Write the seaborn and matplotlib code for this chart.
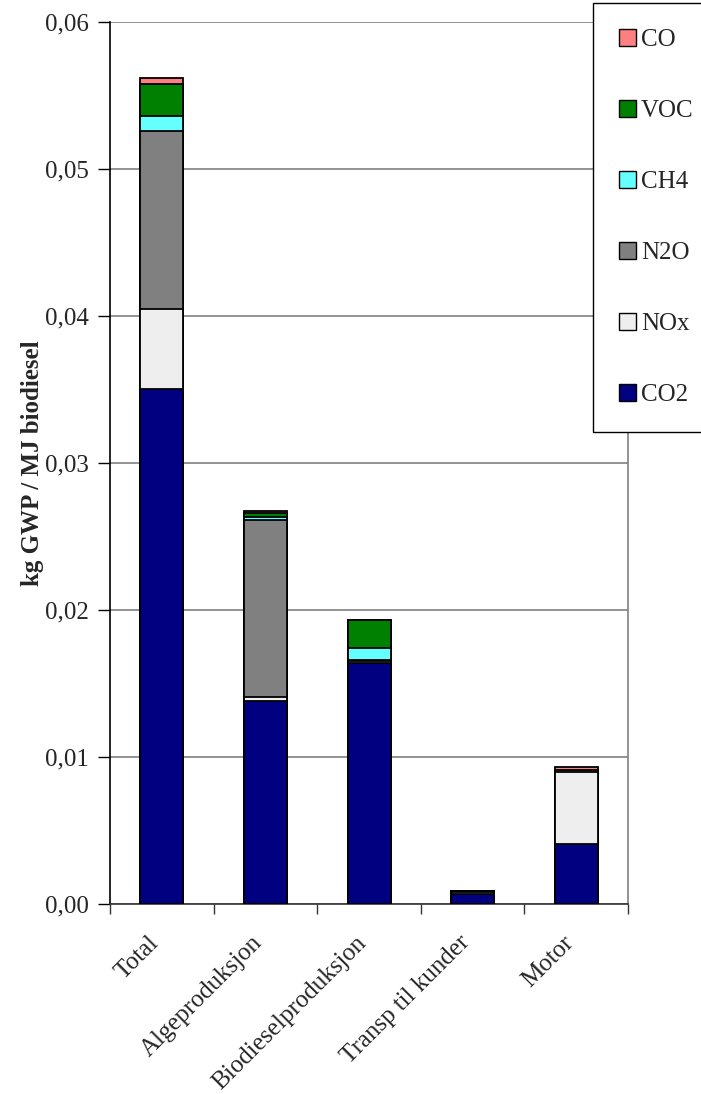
import numpy as np
import pandas as pd
import matplotlib
matplotlib.use("Agg")
import matplotlib.pyplot as plt
import matplotlib.transforms as mtransforms
from matplotlib.patches import Patch
import seaborn as sns

# Categories and emission contributions (kg GWP / MJ biodiesel)
categories = ['Total', 'Algeproduksjon', 'Biodieselproduksjon', 'Transp til kunder', 'Motor']
co2 = [0.0350, 0.0138, 0.0164, 0.0007, 0.0041]
nox = [0.0055, 0.0003, 0.0001, 0.0001, 0.0049]
n2o = [0.0121, 0.0120, 0.0001, 0.0001, 0.0001]
ch4 = [0.0010, 0.0002, 0.0008, 0.0000, 0.0000]
voc = [0.0022, 0.0003, 0.0019, 0.0000, 0.0000]
co = [0.0004, 0.0001, 0.0000, 0.0000, 0.0002]

series = ['CO2', 'NOx', 'N2O', 'CH4', 'VOC', 'CO']
values = [co2, nox, n2o, ch4, voc, co]
colors = {'CO2': '#000080', 'NOx': '#EEEEEE', 'N2O': '#808080',
          'CH4': '#66FFFF', 'VOC': '#008000', 'CO': '#FF8080'}

df = pd.DataFrame(dict(zip(series, values)), index=categories)
cum = df.cumsum(axis=1)

sns.set_style("white")
plt.rcParams['font.family'] = ['Liberation Serif', 'DejaVu Serif']
fs = 18

fig = plt.figure(figsize=(7.01, 10.94), dpi=100)
ax = fig.add_axes([0.1569, 0.1737, 0.739, 0.8062])

# draw cumulative totals from top series down so lower layers overlay
for s in reversed(series):
    sns.barplot(x=categories, y=cum[s].values, color=colors[s], ax=ax,
                width=0.415, edgecolor='black', linewidth=1.3, saturation=1, zorder=3)

ax.set_ylim(0, 0.06)
ax.set_xlim(-0.5, 4.5)
yt = np.arange(0, 0.061, 0.01)
ax.set_yticks(yt)
ax.set_yticklabels([f"{v:.2f}".replace('.', ',') for v in yt], fontsize=fs)
ax.yaxis.grid(True, color='#808080', linewidth=1.2, zorder=0)
ax.set_axisbelow(True)
ax.tick_params(axis='y', direction='out', length=9, width=1, color='black', left=True, pad=6)

ax.set_xticks(range(len(categories)))
ax.set_xticklabels(categories, rotation=45, ha='right', rotation_mode='anchor', fontsize=fs)
ax.tick_params(axis='x', which='major', length=0, pad=20)
shift = mtransforms.ScaledTranslation(-14 / 100, 0, fig.dpi_scale_trans)
for lbl in ax.get_xticklabels():
    lbl.set_transform(lbl.get_transform() + shift)
ax.set_xticks(np.arange(-0.5, 4.6, 1), minor=True)
ax.tick_params(axis='x', which='minor', direction='out', length=7, width=1, color='#333333', bottom=True)

ax.set_ylabel('kg GWP / MJ biodiesel', fontsize=fs, fontweight='bold', labelpad=1)
ax.set_xlabel('')

ax.spines['left'].set_color('black')
ax.spines['bottom'].set_color('#333333')
ax.spines['right'].set_color('#808080')
for side in ['left', 'bottom', 'right']:
    ax.spines[side].set_linewidth(1.2)
ax.spines['top'].set_visible(False)

handles = [Patch(facecolor=colors[s], edgecolor='black', linewidth=1) for s in reversed(series)]
leg = fig.legend(handles, list(reversed(series)), loc='upper left',
                 bbox_to_anchor=(593 / 701, 1 - 3 / 1094), fontsize=fs,
                 frameon=True, fancybox=False, edgecolor='black', framealpha=1,
                 labelspacing=1.95, handlelength=0.66, handleheight=0.66,
                 handletextpad=0.2, borderpad=1.05, borderaxespad=0)
leg.get_frame().set_linewidth(1)

fig.savefig('out.png', dpi=100, facecolor='white')
